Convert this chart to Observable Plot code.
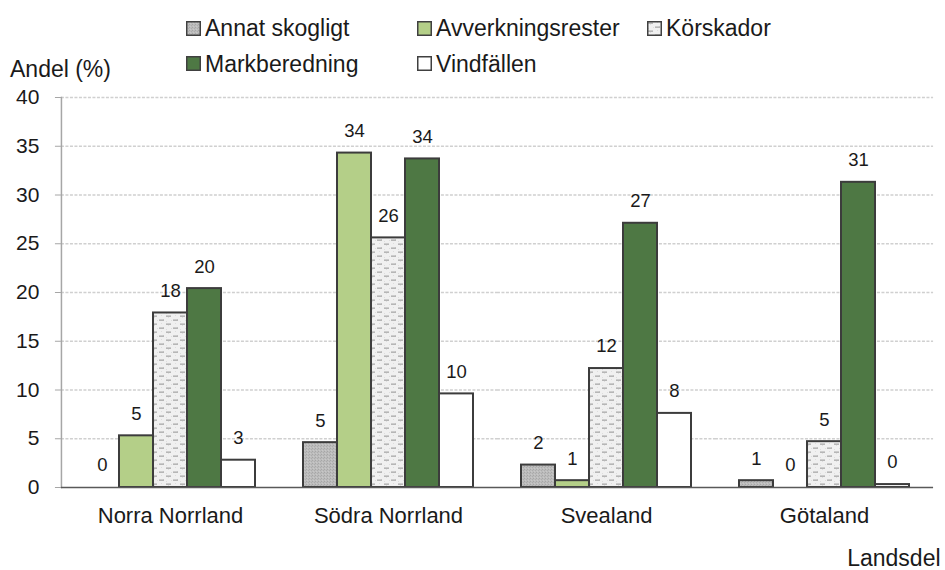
<!DOCTYPE html>
<html>
<head>
<meta charset="utf-8">
<script src="https://cdn.jsdelivr.net/npm/d3@7"></script>
<script src="https://cdn.jsdelivr.net/npm/@observablehq/plot@0.6"></script>
<style>
  html, body { margin: 0; padding: 0; background: #fff; }
  #wrap { width: 945px; height: 570px; font-family: "Liberation Sans", Arial, sans-serif; color: #1a1a1a; }
  #legend { position: relative; width: 945px; height: 82px; }
  #legend .txt { position: absolute; font-size: 23px; line-height: 23px; white-space: nowrap; }
  #legend svg.sw { position: absolute; overflow: visible; }
  #chart svg { display: block; }
</style>
</head>
<body>
<div id="wrap">
  <div id="legend"></div>
  <div id="chart"></div>
</div>
<script>
// ---- data ----
const landsdelar = ["Norra Norrland", "Södra Norrland", "Svealand", "Götaland"];
const serier = ["Annat skogligt", "Avverkningsrester", "Körskador", "Markberedning", "Vindfällen"];
const annatSkogligt     = [0,    4.6,  2.3,  0.7];
const avverkningsrester = [5.3,  34.3, 0.7,  0];
const korskador         = [17.9, 25.6, 12.2, 4.7];
const markberedning     = [20.4, 33.7, 27.1, 31.3];
const vindfallen        = [2.8,  9.6,  7.6,  0.3];
const yTicks = [0, 5, 10, 15, 20, 25, 30, 35, 40];
const yLabel = "Andel (%)";
const xLabel = "Landsdel";

const serieValues = [annatSkogligt, avverkningsrester, korskador, markberedning, vindfallen];
const fills = ["url(#p-annat)", "#b4cf88", "url(#p-kor)", "#4e7844", "#ffffff"];

const data = serier.flatMap((s, j) =>
  landsdelar.map((l, i) => ({landsdel: l, serie: s, value: serieValues[j][i]})));

const fmt = d3.format(".0f");
const FONT = "'Liberation Sans', Arial, sans-serif";

// layout
const W = 945, ML = 60, MR = 10;
const PAD_IN = 0.22, PAD_OUT = 0.11;
const step = (W - ML - MR) / (landsdelar.length - PAD_IN + 2 * PAD_OUT);
const ext = -PAD_OUT * step; // extend per-facet rules to cover the gaps

const chart = Plot.plot({
  width: W,
  height: 488,
  marginTop: 15,
  marginBottom: 83,
  marginLeft: ML,
  marginRight: MR,
  style: {fontFamily: FONT, color: "#1a1a1a", background: "#fff", overflow: "visible"},
  fx: {domain: landsdelar, paddingInner: PAD_IN, paddingOuter: PAD_OUT, label: null, axis: null},
  x: {domain: serier, padding: 0, axis: null},
  y: {domain: [0, 40], axis: null},
  color: {domain: serier, range: fills},
  marks: [
    Plot.ruleY(yTicks.filter(d => d > 0), {insetLeft: ext, insetRight: ext, stroke: "#d0d0d0", strokeWidth: 1.5, strokeDasharray: "3,1.5"}),
    Plot.axisY(yTicks, {tickSize: 6, tickPadding: 16, dx: ext, fontSize: 21, stroke: "#a6a6a6", fill: "#1a1a1a", label: null}),
    Plot.frame({anchor: "left", facet: "super", dx: ext, stroke: "#a6a6a6", strokeWidth: 1.5}),
    Plot.barY(data, {fx: "landsdel", x: "serie", y: "value", fill: "serie", stroke: "#3c3c3c", strokeWidth: 2}),
    Plot.ruleY([0], {insetLeft: ext, insetRight: ext, stroke: "#595959", strokeWidth: 1.5}),
    Plot.text(data, {fx: "landsdel", x: "serie", y: "value", text: d => fmt(d.value), dy: -22, lineAnchor: "middle", fontSize: 18.5, fill: "#1a1a1a"}),
    Plot.axisFx({anchor: "bottom", tickSize: 0, tickPadding: 20, fontSize: 22, label: null, fill: "#1a1a1a"}),
    Plot.text([xLabel], {text: d => d, frameAnchor: "bottom-right", facet: "super", lineAnchor: "top", textAnchor: "end", dx: 7 - ext, dy: 62, fontSize: 23, fill: "#1a1a1a"})
  ]
});

// Pattern definitions
const defs = d3.select(chart).insert("defs", ":first-child");
const pa = defs.append("pattern").attr("id", "p-annat").attr("patternUnits", "userSpaceOnUse").attr("width", 3).attr("height", 3);
pa.append("rect").attr("width", 3).attr("height", 3).attr("fill", "#bcbcbc");
pa.append("rect").attr("x", 0).attr("y", 0).attr("width", 1).attr("height", 1).attr("fill", "#a6a6a6");
pa.append("rect").attr("x", 2).attr("y", 1).attr("width", 1).attr("height", 1).attr("fill", "#acacac");
pa.append("rect").attr("x", 1).attr("y", 2).attr("width", 1).attr("height", 1).attr("fill", "#c8c8c8");
const pk = defs.append("pattern").attr("id", "p-kor").attr("patternUnits", "userSpaceOnUse").attr("width", 14).attr("height", 8);
pk.append("rect").attr("width", 14).attr("height", 8).attr("fill", "#f0f0f0");
[[3,3],[10,1],[6,6],[12,5],[1,7]].forEach(([x, y]) => pk.append("rect").attr("x", x).attr("y", y).attr("width", 1).attr("height", 1).attr("fill", "#dddddd"));
pk.append("rect").attr("x", 1).attr("y", 1.5).attr("width", 5).attr("height", 1.3).attr("fill", "#a8a8a8");
pk.append("rect").attr("x", 8).attr("y", 5.5).attr("width", 5).attr("height", 1.3).attr("fill", "#a8a8a8");

document.getElementById("chart").appendChild(chart);

// Legend (HTML above the SVG)
const legend = d3.select("#legend");
const colX = [186, 417, 647];
serier.forEach((s, i) => {
  const row = i < 3 ? 0 : 1;
  const col = i < 3 ? i : i - 3;
  const baseline = row === 0 ? 36.3 : 72;
  const capCenter = baseline - 8.2;
  const sw = legend.append("svg").attr("class", "sw")
    .attr("width", 15).attr("height", 15)
    .style("left", colX[col] + "px").style("top", (capCenter - 7.5) + "px");
  sw.append("rect").attr("x", 0.75).attr("y", 0.75).attr("width", 13.5).attr("height", 13.5)
    .attr("fill", fills[i]).attr("stroke", "#404040").attr("stroke-width", 1.5);
  legend.append("div").attr("class", "txt")
    .style("left", (colX[col] + 19) + "px").style("top", (baseline - 19.5) + "px")
    .text(s);
});
legend.append("div").attr("class", "txt").style("left", "10px").style("top", (77 - 19.5) + "px").text(yLabel);
</script>
</body>
</html>
